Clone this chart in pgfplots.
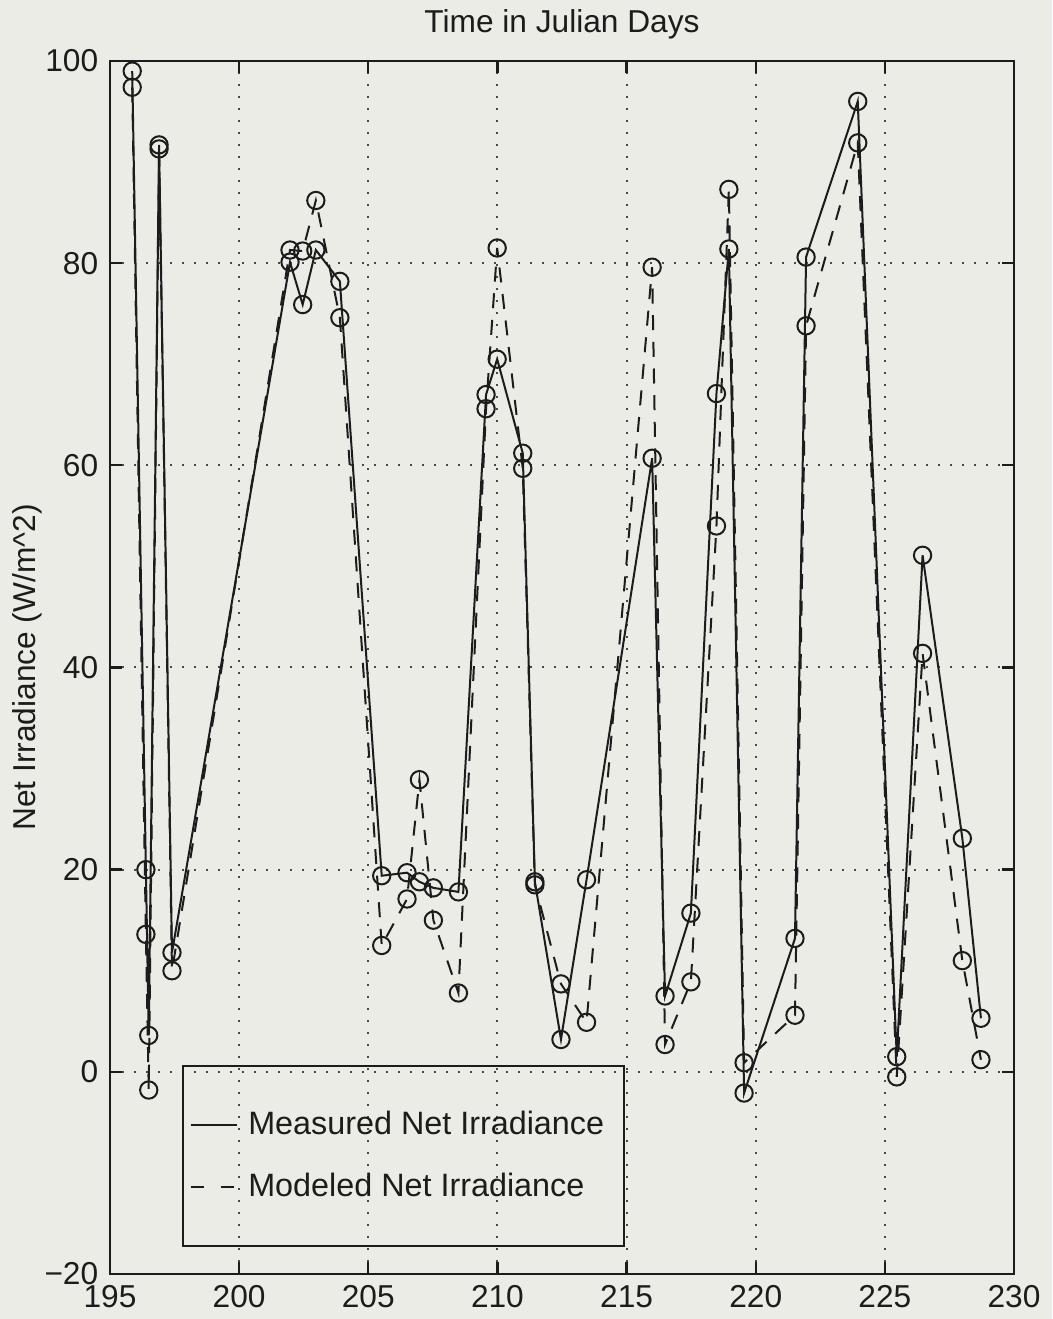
\documentclass[border=0pt]{standalone}
\usepackage{fontspec}
\setmainfont{Liberation Sans}
\usepackage{pgfplots}
\usepackage{pgfplotstable}
\pgfplotsset{compat=1.18}

\definecolor{paper}{RGB}{236,236,230}
\definecolor{ink}{RGB}{28,28,28}

% Julian day, net irradiance (W/m^2)
\pgfplotstableread{
day     irr
195.86  99.0
196.39  20.0
196.50  3.6
196.90  91.7
197.40  11.8
201.97  80.1
202.46  75.9
202.97  81.3
203.90  78.2
205.52  19.4
206.50  19.7
206.98  18.8
207.52  18.2
208.49  17.8
209.56  67.0
209.99  70.5
210.98  61.2
211.45  18.8
212.46  3.2
213.45  19.0
215.99  60.7
216.49  7.5
217.49  15.7
218.48  67.1
218.96  81.4
219.55  -2.1
221.52  13.2
221.95  80.6
223.95  96.0
225.46  1.5
226.46  51.1
228.00  23.1
228.72  5.3
}\measured

\pgfplotstableread{
day     irr
195.86  97.4
196.39  13.6
196.50  -1.8
196.90  91.3
197.40  10.0
201.97  81.3
202.46  81.2
202.97  86.2
203.90  74.6
205.52  12.5
206.50  17.1
206.98  28.9
207.52  15.0
208.49  7.8
209.56  65.6
209.99  81.5
210.98  59.7
211.45  18.5
212.46  8.7
213.45  4.9
215.99  79.6
216.49  2.7
217.49  8.9
218.48  54.0
218.96  87.3
219.55  0.9
221.52  5.6
221.95  73.8
223.95  91.9
225.46  -0.5
226.46  41.4
228.00  11.0
228.72  1.2
}\modeled

\begin{document}
\begin{tikzpicture}[font=\fontsize{9.5}{11.4}\selectfont]
\fill[paper] (-33pt,-13.5pt) rectangle (282.6pt,382.2pt);
\begin{axis}[
  at={(0,0)}, anchor=south west,
  scale only axis, width=271.2pt, height=363.9pt,
  xmin=195, xmax=230, ymin=-20, ymax=100,
  xtick={195,200,...,230}, ytick={-20,0,...,100},
  yticklabels={−20,0,20,40,60,80,100},
  xtick pos=both, ytick pos=both,
  tick align=inside, major tick length=3.6pt,
  axis line style={ink, line width=0.7pt},
  every tick/.style={ink, line width=0.7pt},
  grid=major,
  grid style={ink!80, line width=0.6pt, dash pattern=on 0.6pt off 3pt},
  /pgf/number format/assume math mode=true,
  /pgf/number format/1000 sep={},
  ticklabel style={text=ink},
  ylabel={Net Irradiance (W/m\textasciicircum 2)},
  ylabel style={at={(axis description cs:-0.092,0.5)}, anchor=center, text=ink},
  legend style={at={(0.0796,0.1723)}, anchor=north west,
    draw=ink, fill=none, line width=0.6pt,
    inner xsep=2pt, inner ysep=12pt, row sep=7pt,
    font=\fontsize{9.7}{11.6}\selectfont,
    nodes={text=ink, inner sep=1.5pt}},
  legend cell align=left,
  legend image code/.code={\draw[#1] (0pt,0pt) -- (14pt,0pt);},
]
\addplot[ink, line width=0.6pt, mark=o, mark size=2.6pt,
  mark options={solid}, forget plot] table[x=day, y=irr] {\measured};
\addplot[ink, line width=0.6pt, dash pattern=on 4.5pt off 3.5pt, mark=o,
  mark size=2.6pt, mark options={solid}, forget plot] table[x=day, y=irr] {\modeled};

\addlegendimage{ink, line width=0.6pt}
\addlegendentry{\kern1.5pt Measured Net Irradiance\kern2.5pt}
\addlegendimage{ink, line width=0.6pt, dash pattern=on 4pt off 5pt}
\addlegendentry{\kern1.5pt Modeled Net Irradiance}
\end{axis}
% title, centred over the axis box
\node[anchor=base, text=ink] at (135.6pt,372.5pt) {Time in Julian Days};
\pgfresetboundingbox
\path (-33pt,-13.5pt) rectangle (282.6pt,382.2pt);
\end{tikzpicture}
\end{document}
